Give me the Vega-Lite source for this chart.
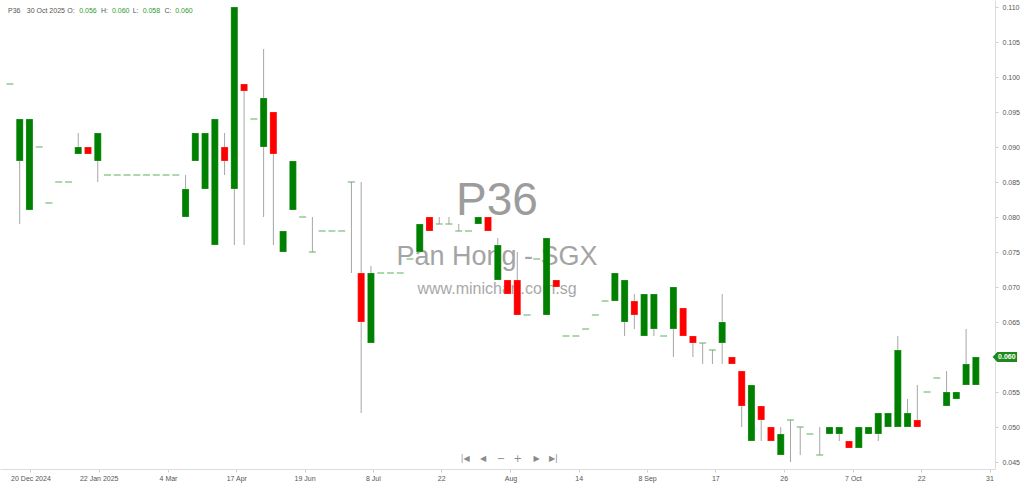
{
  "$schema": "https://vega.github.io/schema/vega-lite/v6.json",
  "width": 995,
  "height": 469,
  "autosize": "none",
  "padding": {"left": 0, "top": 0, "right": 29, "bottom": 15},
  "background": "white",
  "data": {
    "values": [
      {"i":0,"o":0.099,"h":0.099,"l":0.099,"c":0.099},
      {"i":1,"o":0.088,"h":0.094,"l":0.079,"c":0.094},
      {"i":2,"o":0.081,"h":0.094,"l":0.081,"c":0.094},
      {"i":3,"o":0.090,"h":0.090,"l":0.090,"c":0.090},
      {"i":4,"o":0.082,"h":0.082,"l":0.082,"c":0.082},
      {"i":5,"o":0.085,"h":0.085,"l":0.085,"c":0.085},
      {"i":6,"o":0.085,"h":0.085,"l":0.085,"c":0.085},
      {"i":7,"o":0.089,"h":0.092,"l":0.089,"c":0.090},
      {"i":8,"o":0.090,"h":0.090,"l":0.089,"c":0.089},
      {"i":9,"o":0.088,"h":0.092,"l":0.085,"c":0.092},
      {"i":10,"o":0.086,"h":0.086,"l":0.086,"c":0.086},
      {"i":11,"o":0.086,"h":0.086,"l":0.086,"c":0.086},
      {"i":12,"o":0.086,"h":0.086,"l":0.086,"c":0.086},
      {"i":13,"o":0.086,"h":0.086,"l":0.086,"c":0.086},
      {"i":14,"o":0.086,"h":0.086,"l":0.086,"c":0.086},
      {"i":15,"o":0.086,"h":0.086,"l":0.086,"c":0.086},
      {"i":16,"o":0.086,"h":0.086,"l":0.086,"c":0.086},
      {"i":17,"o":0.086,"h":0.086,"l":0.086,"c":0.086},
      {"i":18,"o":0.080,"h":0.086,"l":0.080,"c":0.084},
      {"i":19,"o":0.088,"h":0.092,"l":0.088,"c":0.092},
      {"i":20,"o":0.084,"h":0.092,"l":0.084,"c":0.092},
      {"i":21,"o":0.076,"h":0.094,"l":0.076,"c":0.094},
      {"i":22,"o":0.090,"h":0.092,"l":0.086,"c":0.088},
      {"i":23,"o":0.084,"h":0.110,"l":0.076,"c":0.110},
      {"i":24,"o":0.099,"h":0.099,"l":0.076,"c":0.098},
      {"i":25,"o":0.094,"h":0.094,"l":0.094,"c":0.094},
      {"i":26,"o":0.090,"h":0.104,"l":0.080,"c":0.097},
      {"i":27,"o":0.095,"h":0.095,"l":0.076,"c":0.089},
      {"i":28,"o":0.075,"h":0.078,"l":0.075,"c":0.078},
      {"i":29,"o":0.081,"h":0.088,"l":0.081,"c":0.088},
      {"i":30,"o":0.080,"h":0.080,"l":0.080,"c":0.080},
      {"i":31,"o":0.075,"h":0.080,"l":0.075,"c":0.075},
      {"i":32,"o":0.078,"h":0.078,"l":0.078,"c":0.078},
      {"i":33,"o":0.078,"h":0.078,"l":0.078,"c":0.078},
      {"i":34,"o":0.078,"h":0.078,"l":0.078,"c":0.078},
      {"i":35,"o":0.085,"h":0.085,"l":0.072,"c":0.085},
      {"i":36,"o":0.072,"h":0.085,"l":0.052,"c":0.065},
      {"i":37,"o":0.062,"h":0.073,"l":0.062,"c":0.072},
      {"i":38,"o":0.072,"h":0.072,"l":0.072,"c":0.072},
      {"i":39,"o":0.072,"h":0.072,"l":0.072,"c":0.072},
      {"i":40,"o":0.072,"h":0.072,"l":0.072,"c":0.072},
      {"i":41,"o":0.074,"h":0.074,"l":0.074,"c":0.074},
      {"i":42,"o":0.075,"h":0.079,"l":0.075,"c":0.079},
      {"i":43,"o":0.080,"h":0.080,"l":0.078,"c":0.078},
      {"i":44,"o":0.079,"h":0.080,"l":0.079,"c":0.079},
      {"i":45,"o":0.079,"h":0.080,"l":0.079,"c":0.079},
      {"i":46,"o":0.078,"h":0.079,"l":0.078,"c":0.078},
      {"i":47,"o":0.078,"h":0.078,"l":0.078,"c":0.078},
      {"i":48,"o":0.079,"h":0.080,"l":0.079,"c":0.080},
      {"i":49,"o":0.080,"h":0.080,"l":0.078,"c":0.078},
      {"i":50,"o":0.071,"h":0.077,"l":0.071,"c":0.076},
      {"i":51,"o":0.071,"h":0.071,"l":0.069,"c":0.069},
      {"i":52,"o":0.071,"h":0.075,"l":0.066,"c":0.066},
      {"i":53,"o":0.066,"h":0.066,"l":0.066,"c":0.066},
      {"i":54,"o":0.074,"h":0.074,"l":0.074,"c":0.074},
      {"i":55,"o":0.066,"h":0.077,"l":0.066,"c":0.077},
      {"i":56,"o":0.071,"h":0.071,"l":0.070,"c":0.070},
      {"i":57,"o":0.063,"h":0.063,"l":0.063,"c":0.063},
      {"i":58,"o":0.063,"h":0.063,"l":0.063,"c":0.063},
      {"i":59,"o":0.064,"h":0.064,"l":0.064,"c":0.064},
      {"i":60,"o":0.066,"h":0.066,"l":0.066,"c":0.066},
      {"i":61,"o":0.068,"h":0.068,"l":0.068,"c":0.068},
      {"i":62,"o":0.068,"h":0.072,"l":0.068,"c":0.072},
      {"i":63,"o":0.065,"h":0.071,"l":0.063,"c":0.071},
      {"i":64,"o":0.068,"h":0.069,"l":0.064,"c":0.066},
      {"i":65,"o":0.063,"h":0.069,"l":0.063,"c":0.069},
      {"i":66,"o":0.064,"h":0.069,"l":0.063,"c":0.069},
      {"i":67,"o":0.063,"h":0.063,"l":0.063,"c":0.063},
      {"i":68,"o":0.064,"h":0.070,"l":0.060,"c":0.070},
      {"i":69,"o":0.067,"h":0.067,"l":0.063,"c":0.063},
      {"i":70,"o":0.063,"h":0.063,"l":0.060,"c":0.062},
      {"i":71,"o":0.062,"h":0.062,"l":0.059,"c":0.062},
      {"i":72,"o":0.061,"h":0.061,"l":0.059,"c":0.061},
      {"i":73,"o":0.062,"h":0.069,"l":0.059,"c":0.065},
      {"i":74,"o":0.060,"h":0.060,"l":0.059,"c":0.059},
      {"i":75,"o":0.058,"h":0.058,"l":0.050,"c":0.053},
      {"i":76,"o":0.048,"h":0.056,"l":0.048,"c":0.056},
      {"i":77,"o":0.053,"h":0.053,"l":0.048,"c":0.051},
      {"i":78,"o":0.050,"h":0.050,"l":0.048,"c":0.048},
      {"i":79,"o":0.046,"h":0.050,"l":0.046,"c":0.049},
      {"i":80,"o":0.051,"h":0.051,"l":0.045,"c":0.051},
      {"i":81,"o":0.050,"h":0.050,"l":0.046,"c":0.050},
      {"i":82,"o":0.049,"h":0.049,"l":0.049,"c":0.049},
      {"i":83,"o":0.046,"h":0.050,"l":0.046,"c":0.046},
      {"i":84,"o":0.049,"h":0.050,"l":0.049,"c":0.050},
      {"i":85,"o":0.049,"h":0.050,"l":0.048,"c":0.050},
      {"i":86,"o":0.048,"h":0.048,"l":0.047,"c":0.047},
      {"i":87,"o":0.047,"h":0.050,"l":0.047,"c":0.050},
      {"i":88,"o":0.049,"h":0.050,"l":0.049,"c":0.050},
      {"i":89,"o":0.049,"h":0.052,"l":0.048,"c":0.052},
      {"i":90,"o":0.050,"h":0.052,"l":0.050,"c":0.052},
      {"i":91,"o":0.050,"h":0.063,"l":0.050,"c":0.061},
      {"i":92,"o":0.050,"h":0.054,"l":0.050,"c":0.052},
      {"i":93,"o":0.051,"h":0.056,"l":0.050,"c":0.050},
      {"i":94,"o":0.055,"h":0.055,"l":0.055,"c":0.055},
      {"i":95,"o":0.057,"h":0.057,"l":0.057,"c":0.057},
      {"i":96,"o":0.053,"h":0.058,"l":0.053,"c":0.055},
      {"i":97,"o":0.054,"h":0.055,"l":0.054,"c":0.055},
      {"i":98,"o":0.056,"h":0.064,"l":0.056,"c":0.059},
      {"i":99,"o":0.056,"h":0.060,"l":0.056,"c":0.060}
    ]
  },
  "encoding": {
    "x": {
      "type": "quantitative",
      "title": null,
      "scale": {"domain": [-0.507, 100.45], "nice": false, "zero": false},
      "axis": {
        "values": [2.1, 9.1, 16.2, 23.2, 30.2, 37.2, 44.2, 51.3, 58.3, 65.3, 72.3, 79.3, 86.4, 93.4, 100.4],
        "labelExpr": "['20 Dec 2024','22 Jan 2025','4 Mar','17 Apr','19 Jun','8 Jul','22','Aug','14','8 Sep','17','26','7 Oct','22','31'][round((datum.value - 2.1) / 7.02)]",
        "grid": false,
        "domainColor": "#dcdcdc",
        "tickColor": "#cfcfcf",
        "tickSize": 3,
        "labelFontSize": 7,
        "labelColor": "#555555",
        "labelPadding": 2,
        "labelFlush": false,
        "labelOverlap": false
      }
    },
    "y": {
      "type": "quantitative",
      "title": null,
      "scale": {"domain": [0.044, 0.111], "nice": false, "zero": false},
      "axis": {
        "orient": "right",
        "values": [0.045, 0.05, 0.055, 0.06, 0.065, 0.07, 0.075, 0.08, 0.085, 0.09, 0.095, 0.1, 0.105, 0.11],
        "format": ".3f",
        "labelExpr": "abs(datum.value - 0.06) < 0.0001 ? '' : datum.label",
        "grid": false,
        "domainColor": "#dcdcdc",
        "tickColor": "#cfcfcf",
        "tickSize": 3,
        "labelFontSize": 7,
        "labelColor": "#555555",
        "labelPadding": 4
      }
    }
  },
  "layer": [
    {
      "data": {"values": [{}]},
      "mark": {"type": "text", "text": "P36", "fontSize": 46, "font": "Liberation Sans", "color": "#9c9c9c", "align": "center", "baseline": "middle"},
      "encoding": {"x": {"datum": 49.92}, "y": {"datum": 0.0823}}
    },
    {
      "data": {"values": [{}]},
      "mark": {"type": "text", "text": "Pan Hong - SGX", "fontSize": 27, "font": "Liberation Sans", "color": "#a4a4a4", "align": "center", "baseline": "middle"},
      "encoding": {"x": {"datum": 49.92}, "y": {"datum": 0.0743}}
    },
    {
      "data": {"values": [{}]},
      "mark": {"type": "text", "text": "www.minichart.com.sg", "fontSize": 16, "font": "Liberation Sans", "color": "#a8a8a8", "align": "center", "baseline": "middle"},
      "encoding": {"x": {"datum": 49.92}, "y": {"datum": 0.0697}}
    },
    {
      "mark": {"type": "rule", "color": "#a6a6a6", "strokeWidth": 1},
      "encoding": {"x": {"field": "i"}, "y": {"field": "l"}, "y2": {"field": "h"}}
    },
    {
      "transform": [{"filter": "datum.o != datum.c"}],
      "mark": {"type": "bar", "width": 7, "stroke": "#ffffff", "strokeWidth": 0.4, "strokeOpacity": 0.5},
      "encoding": {
        "x": {"field": "i"},
        "y": {"field": "o"},
        "y2": {"field": "c"},
        "color": {"condition": {"test": "datum.c < datum.o", "value": "#ff0000"}, "value": "#008000"}
      }
    },
    {
      "transform": [{"filter": "datum.o == datum.c"}],
      "mark": {"type": "tick", "orient": "horizontal", "thickness": 1, "size": 7, "color": "#5fae5f", "opacity": 1},
      "encoding": {"x": {"field": "i"}, "y": {"field": "c"}}
    },
    {
      "data": {"values": [{}]},
      "mark": {"type": "text", "text": "|◀", "fontSize": 8, "font": "DejaVu Sans", "color": "#8a8a8a", "align": "center", "baseline": "middle"},
      "encoding": {"x": {"datum": 46.67}, "y": {"datum": 0.04543}}
    },
    {
      "data": {"values": [{}]},
      "mark": {"type": "text", "text": "◀", "fontSize": 8, "font": "DejaVu Sans", "color": "#8a8a8a", "align": "center", "baseline": "middle"},
      "encoding": {"x": {"datum": 48.5}, "y": {"datum": 0.04543}}
    },
    {
      "data": {"values": [{}]},
      "mark": {"type": "text", "text": "−", "fontSize": 10, "font": "DejaVu Sans", "color": "#8a8a8a", "align": "center", "baseline": "middle"},
      "encoding": {"x": {"datum": 50.33}, "y": {"datum": 0.04543}}
    },
    {
      "data": {"values": [{}]},
      "mark": {"type": "text", "text": "+", "fontSize": 10, "font": "DejaVu Sans", "color": "#8a8a8a", "align": "center", "baseline": "middle"},
      "encoding": {"x": {"datum": 52.05}, "y": {"datum": 0.04543}}
    },
    {
      "data": {"values": [{}]},
      "mark": {"type": "text", "text": "▶", "fontSize": 8, "font": "DejaVu Sans", "color": "#8a8a8a", "align": "center", "baseline": "middle"},
      "encoding": {"x": {"datum": 53.98}, "y": {"datum": 0.04543}}
    },
    {
      "data": {"values": [{}]},
      "mark": {"type": "text", "text": "▶|", "fontSize": 8, "font": "DejaVu Sans", "color": "#8a8a8a", "align": "center", "baseline": "middle"},
      "encoding": {"x": {"datum": 55.7}, "y": {"datum": 0.04543}}
    },
    {
      "data": {"values": [{}]},
      "mark": {"type": "text", "text": "P36", "fontSize": 7, "color": "#555555", "align": "left", "baseline": "middle"},
      "encoding": {"x": {"datum": -0.2}, "y": {"datum": 0.10943}}
    },
    {
      "data": {"values": [{}]},
      "mark": {"type": "text", "text": "30 Oct 2025", "fontSize": 7, "color": "#555555", "align": "left", "baseline": "middle"},
      "encoding": {"x": {"datum": 1.725}, "y": {"datum": 0.10943}}
    },
    {
      "data": {"values": [{}]},
      "mark": {"type": "text", "text": "O:", "fontSize": 7, "color": "#555555", "align": "left", "baseline": "middle"},
      "encoding": {"x": {"datum": 5.885}, "y": {"datum": 0.10943}}
    },
    {
      "data": {"values": [{}]},
      "mark": {"type": "text", "text": "0.056", "fontSize": 7, "color": "#2e9a2e", "align": "left", "baseline": "middle"},
      "encoding": {"x": {"datum": 7.1}, "y": {"datum": 0.10943}}
    },
    {
      "data": {"values": [{}]},
      "mark": {"type": "text", "text": "H:", "fontSize": 7, "color": "#555555", "align": "left", "baseline": "middle"},
      "encoding": {"x": {"datum": 9.335}, "y": {"datum": 0.10943}}
    },
    {
      "data": {"values": [{}]},
      "mark": {"type": "text", "text": "0.060", "fontSize": 7, "color": "#2e9a2e", "align": "left", "baseline": "middle"},
      "encoding": {"x": {"datum": 10.45}, "y": {"datum": 0.10943}}
    },
    {
      "data": {"values": [{}]},
      "mark": {"type": "text", "text": "L:", "fontSize": 7, "color": "#555555", "align": "left", "baseline": "middle"},
      "encoding": {"x": {"datum": 12.58}, "y": {"datum": 0.10943}}
    },
    {
      "data": {"values": [{}]},
      "mark": {"type": "text", "text": "0.058", "fontSize": 7, "color": "#2e9a2e", "align": "left", "baseline": "middle"},
      "encoding": {"x": {"datum": 13.6}, "y": {"datum": 0.10943}}
    },
    {
      "data": {"values": [{}]},
      "mark": {"type": "text", "text": "C:", "fontSize": 7, "color": "#555555", "align": "left", "baseline": "middle"},
      "encoding": {"x": {"datum": 15.83}, "y": {"datum": 0.10943}}
    },
    {
      "data": {"values": [{}]},
      "mark": {"type": "text", "text": "0.060", "fontSize": 7, "color": "#2e9a2e", "align": "left", "baseline": "middle"},
      "encoding": {"x": {"datum": 16.94}, "y": {"datum": 0.10943}}
    },
    {
      "data": {"values": [{}]},
      "mark": {"type": "point", "shape": "M -1 0 L -0.62 -0.4 L 1 -0.4 L 1 0.4 L -0.62 0.4 Z", "size": 600, "filled": true, "color": "#1e8a1e", "opacity": 1, "clip": false},
      "encoding": {"x": {"datum": 101.97}, "y": {"datum": 0.06}}
    },
    {
      "data": {"values": [{}]},
      "mark": {"type": "text", "text": "0.060", "fontSize": 7, "fontWeight": "bold", "color": "#ffffff", "align": "center", "baseline": "middle", "dx": 2, "clip": false},
      "encoding": {"x": {"datum": 101.97}, "y": {"datum": 0.06}}
    }
  ],
  "config": {
    "view": {"stroke": null},
    "font": "Liberation Sans"
  }
}
